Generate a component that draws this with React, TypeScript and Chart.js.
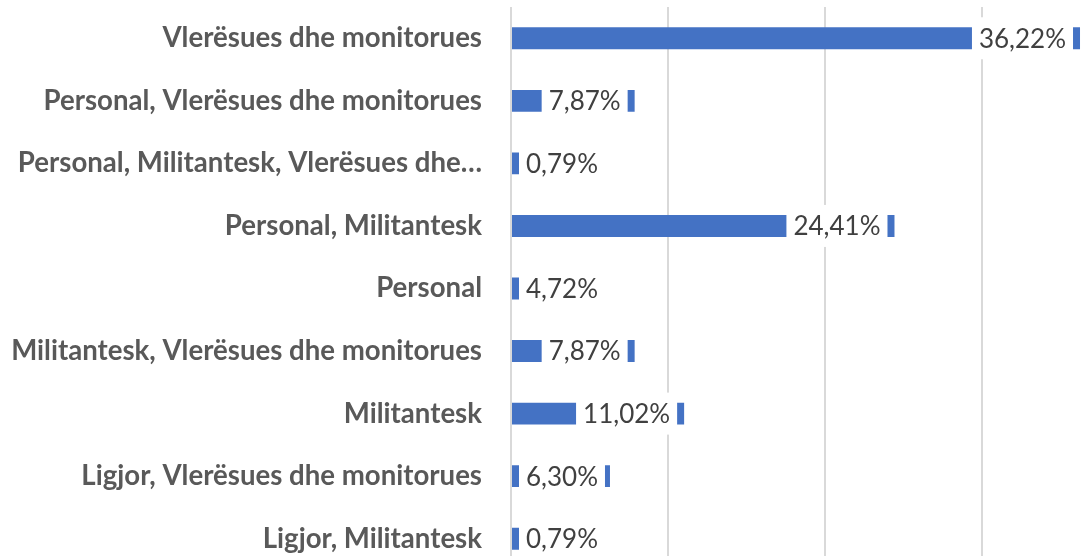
import React, { useEffect, useRef } from "react";
import { Chart, registerables } from "chart.js";

Chart.register(...registerables);

// ---- data ----
const categories: string[] = [
  "Vlerësues dhe monitorues",
  "Personal, Vlerësues dhe monitorues",
  "Personal, Militantesk, Vlerësues dhe…",
  "Personal, Militantesk",
  "Personal",
  "Militantesk, Vlerësues dhe monitorues",
  "Militantesk",
  "Ligjor, Vlerësues dhe monitorues",
  "Ligjor, Militantesk",
];
const values: number[] = [36.22, 7.87, 0.79, 24.41, 4.72, 7.87, 11.02, 6.3, 0.79];
const axisMin = 0;
const axisMax = 40;
const axisStep = 10;

// ---- styles ----
const BAR_COLOR = "#4472C4";
const GRID_COLOR = "#D9D9D9";
const CAT_COLOR = "#595959";
const LABEL_COLOR = "#404040";
const FONT = "Lato, 'Open Sans', sans-serif";
const CAT_SIZE = 27.6;
const LABEL_SIZE = 26;
const LABEL_PAD = 7;
const LABEL_INSET = 7;
const LABEL_BOX_H = 42;
const CANVAS_W = 1150;
const CANVAS_H = 580;
const PLOT_LEFT = 511;

const fmt = (v: number) => v.toFixed(2).replace(".", ",") + "%";

const insideEndLabels = {
  id: "insideEndLabels",
  afterDatasetsDraw(chart: any) {
    const ctx = chart.ctx as CanvasRenderingContext2D;
    const meta = chart.getDatasetMeta(0);
    ctx.save();
    ctx.font = `${LABEL_SIZE}px ${FONT}`;
    ctx.textBaseline = "middle";
    ctx.textAlign = "left";
    meta.data.forEach((bar: any, i: number) => {
      const text = fmt(values[i]);
      const w = ctx.measureText(text).width;
      const boxW = w + LABEL_PAD * 2;
      const right = bar.x - LABEL_INSET;
      const left = Math.max(right - boxW, bar.base + LABEL_INSET);
      ctx.fillStyle = "#FFFFFF";
      ctx.fillRect(left, bar.y - LABEL_BOX_H / 2, boxW, LABEL_BOX_H);
      ctx.fillStyle = LABEL_COLOR;
      ctx.fillText(text, left + LABEL_PAD, bar.y + 1);
    });
    ctx.restore();
  },
};

export default function App() {
  const ref = useRef<HTMLCanvasElement | null>(null);

  useEffect(() => {
    if (!ref.current) return;
    const chart = new Chart(ref.current, {
      type: "bar",
      data: {
        labels: categories,
        datasets: [
          {
            data: values,
            backgroundColor: BAR_COLOR,
            borderWidth: 0,
            barPercentage: 0.35,
            categoryPercentage: 1,
          },
        ],
      },
      options: {
        indexAxis: "y",
        responsive: false,
        animation: false,
        devicePixelRatio: 1,
        layout: { padding: { top: 7, bottom: 10, left: 0, right: CANVAS_W - PLOT_LEFT - 628.4 } },
        plugins: {
          legend: { display: false },
          tooltip: { enabled: false },
        },
        scales: {
          x: {
            min: axisMin,
            max: axisMax,
            ticks: { display: false, stepSize: axisStep },
            grid: { color: GRID_COLOR, lineWidth: 2, drawTicks: false },
            border: { display: false },
          },
          y: {
            grid: { display: false, drawTicks: false },
            border: { display: false },
            ticks: {
              color: CAT_COLOR,
              padding: 29,
              font: { family: FONT, size: CAT_SIZE, weight: "bold" },
              autoSkip: false,
            },
            afterFit(scale: any) {
              scale.width = PLOT_LEFT;
              scale.paddingTop = 0;
              scale.paddingBottom = 0;
            },
          },
        },
      },
      plugins: [insideEndLabels],
    });
    return () => chart.destroy();
  }, []);

  return (
    <div
      style={{
        position: "fixed",
        left: 0,
        top: 0,
        width: 1085,
        height: 556,
        overflow: "hidden",
        background: "#fff",
      }}
    >
      <canvas ref={ref} width={CANVAS_W} height={CANVAS_H} style={{ display: "block" }} />
    </div>
  );
}
